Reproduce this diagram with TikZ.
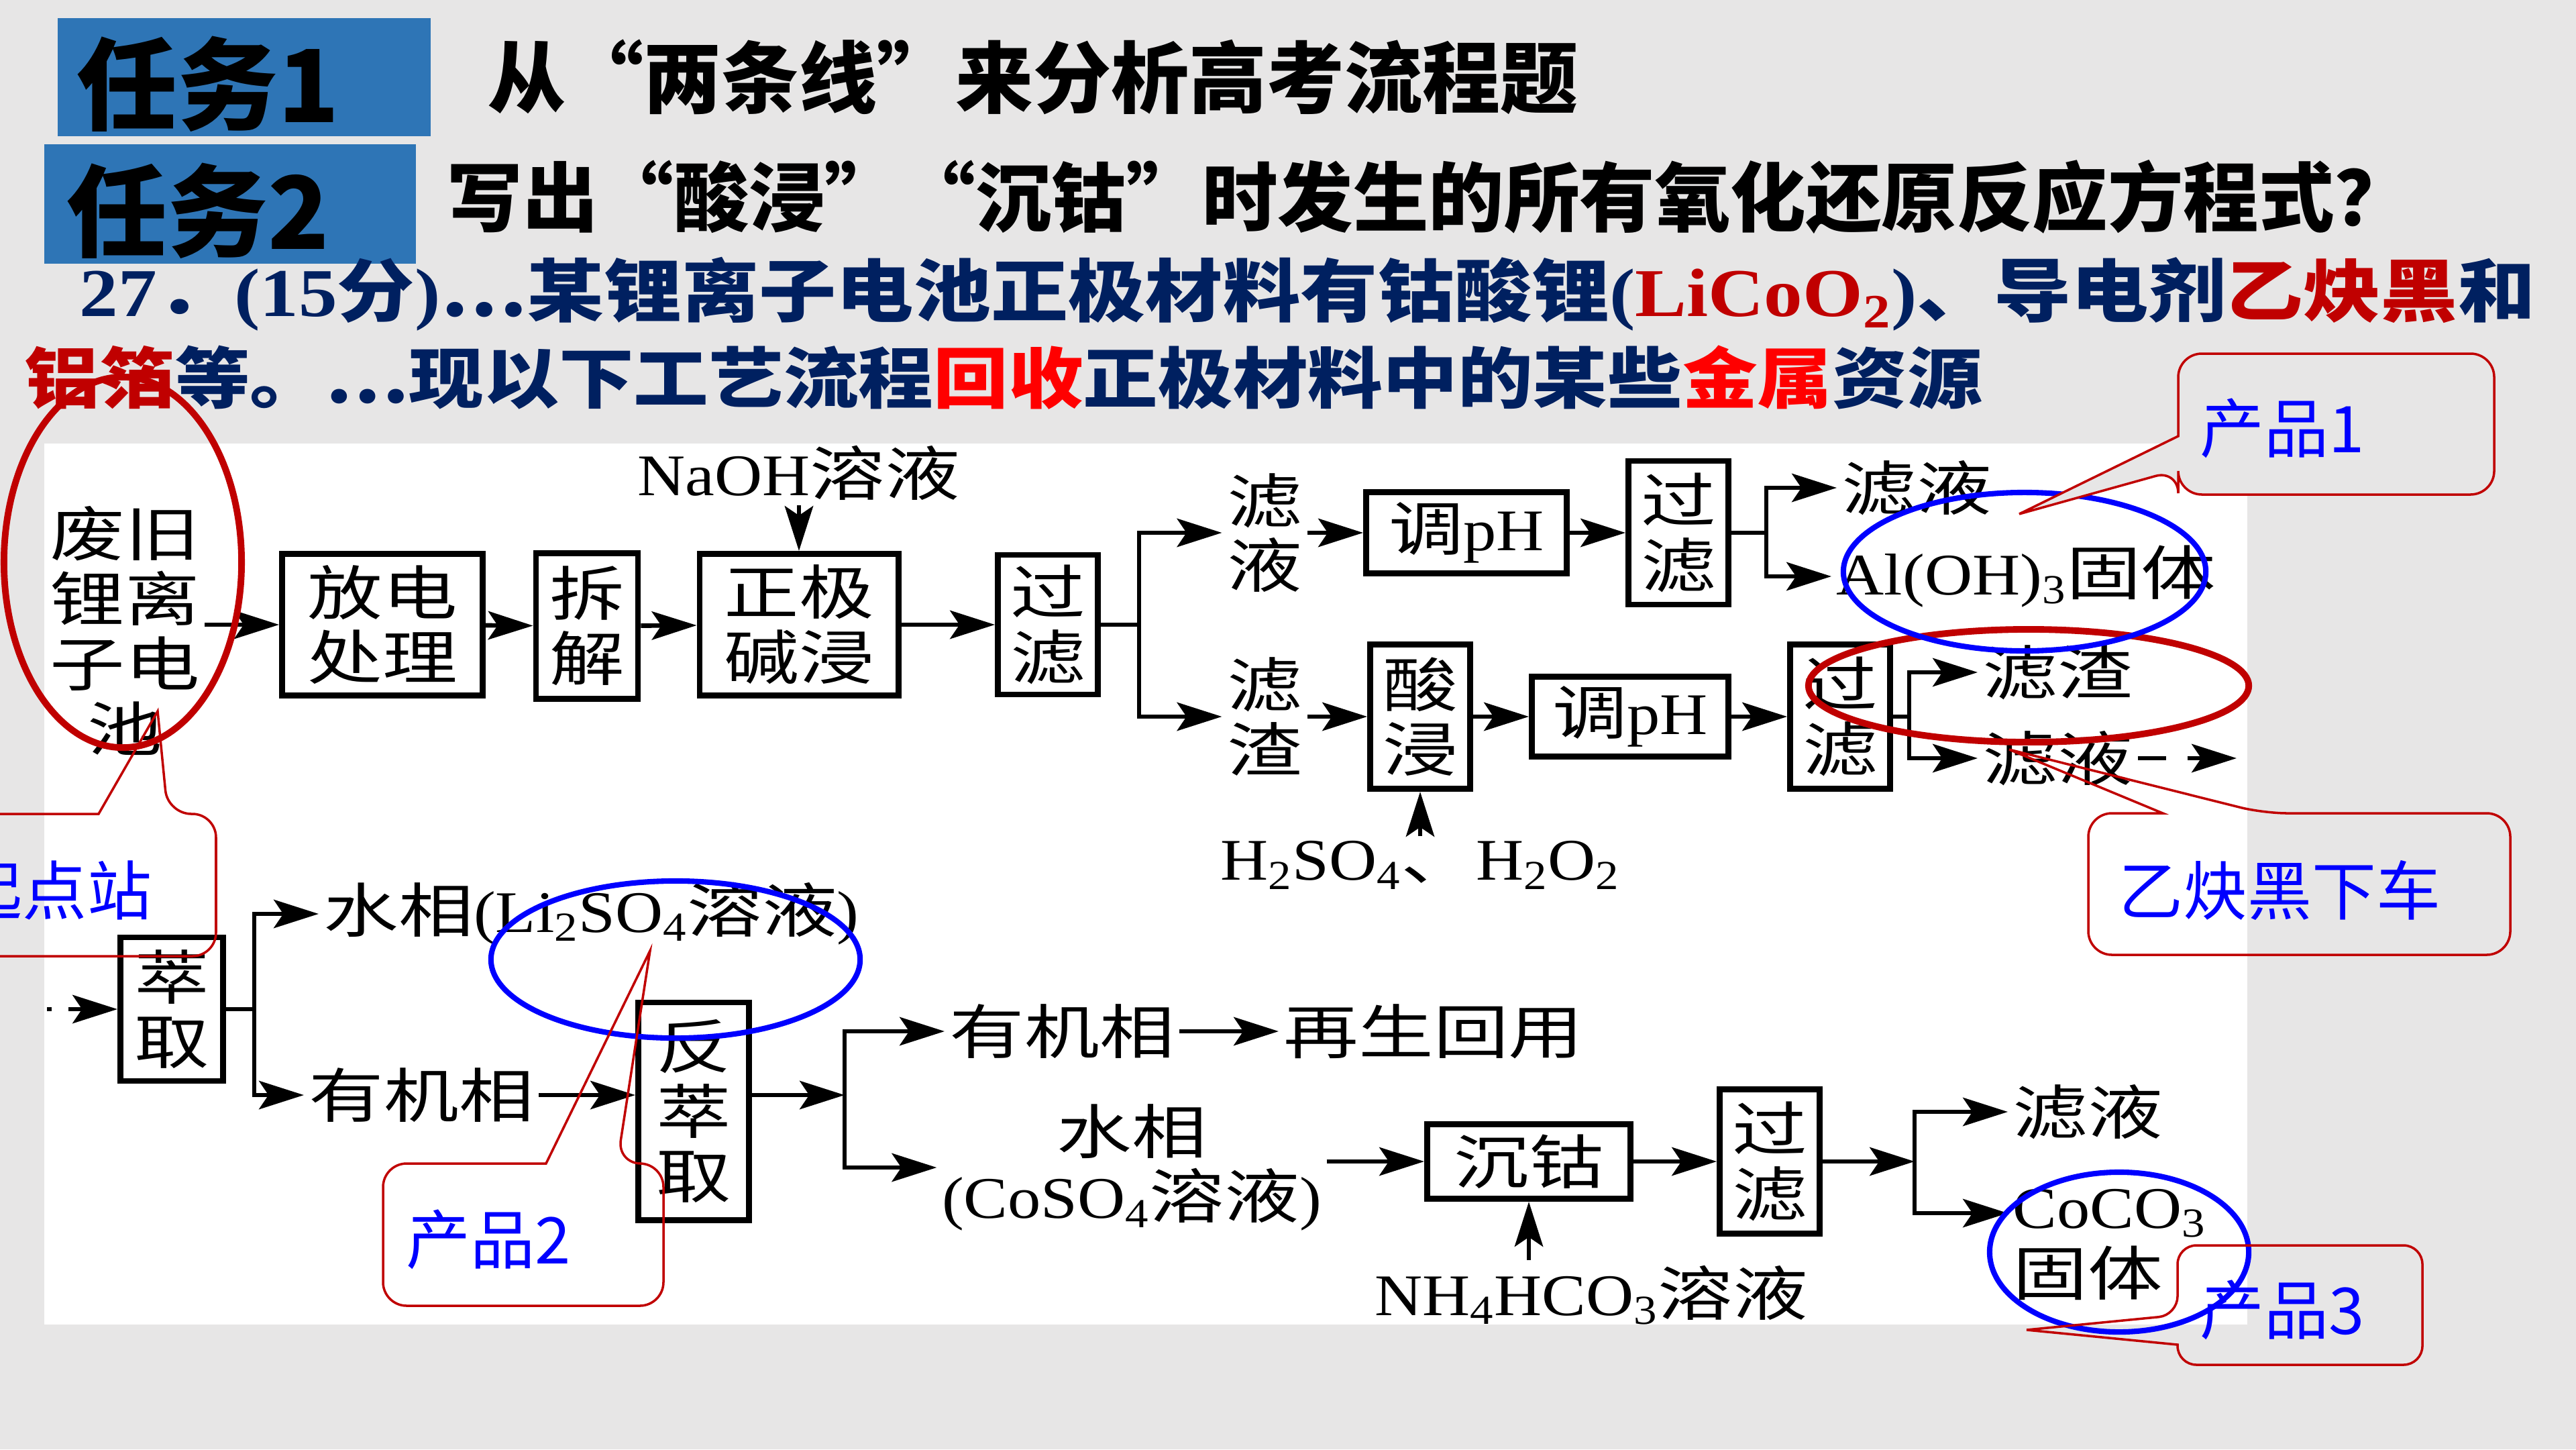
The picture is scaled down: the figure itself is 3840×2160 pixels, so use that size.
\documentclass[tikz,border=0pt]{standalone}
\usepackage{fontspec}
\usepackage{xcolor}
\usetikzlibrary{arrows.meta,positioning}

\setmainfont{Liberation Serif}
\newfontfamily\hei{Noto Sans CJK SC}
\newfontfamily\qzh[FakeStretch=1.13]{Noto Sans CJK SC}
\newfontfamily\qla[FakeStretch=1.13]{Liberation Serif}
\newfontfamily\dzh[FakeStretch=1.27]{Noto Sans CJK SC}
\newfontfamily\dla[FakeStretch=1.12]{Liberation Serif}
\newcommand\la[1]{{\dla #1}}
\newcommand\ql[1]{{\qla\bfseries #1}}

\definecolor{slide}{HTML}{E7E6E6}
\definecolor{taskblue}{HTML}{2E75B6}
\definecolor{navy}{HTML}{002060}
\definecolor{dred}{HTML}{C00000}
\definecolor{bred}{HTML}{FF0000}
\definecolor{cblue}{HTML}{0000FF}

\begin{document}
\begin{tikzpicture}[x=0.01cm, y=-0.01cm,
        procbox/.style={draw, line width=2.5pt, inner sep=0pt, align=center, font=\dzh\fontsize{25}{27.5}\selectfont},
        txt/.style={inner sep=2pt, align=center, font=\dzh\fontsize{25}{27.5}\selectfont},
        flow/.style={line width=1.9pt, -{Stealth[length=19pt, width=12pt, inset=4pt]}},
        link/.style={line width=1.9pt},
        ringred/.style={draw=dred, line width=2.8pt},
        ringblue/.style={draw=cblue, line width=2.3pt},
        bubble/.style={draw=dred, line width=1pt},
        bubtxt/.style={text=cblue, inner sep=0pt, font=\hei\fontsize{27.3}{30}\selectfont}
    ]
        \fill[slide] (0,0) rectangle (3840,2160);
        \useasboundingbox (0,0) rectangle (3840,2160);
        \clip (0,0) rectangle (3840,2160);
        \fill[white] (66,661) rectangle (3350,1974);

        % header
        \fill[taskblue] (86,27) rectangle (642,203);
        \fill[taskblue] (66,215) rectangle (620,393);
        \node[inner sep=0pt, font=\hei\bfseries\fontsize{42.7}{46}\selectfont] (task1) at (310,125) {任务1};
        \node[inner sep=0pt, font=\hei\bfseries\fontsize{42.7}{46}\selectfont] (task2) at (295,314) {任务2};
        \node[anchor=west, inner sep=0pt, font=\hei\bfseries\fontsize{33}{36}\selectfont] (ttl1) at (727,115) {从“两条线”来分析高考流程题};
        \node[anchor=west, inner sep=0pt, font=\hei\bfseries\fontsize{32}{35}\selectfont] (ttl2) at (666,294) {写出“酸浸”“沉钴”时发生的所有氧化还原反应方程式？};
        \node[anchor=west, inner sep=0pt, text=navy, font=\qzh\bfseries\fontsize{29}{32}\selectfont] (q1) at (118,438)
            {\ql{27}．\ql{(15}分\ql{)}…某锂离子电池正极材料有钴酸锂\ql{(}\textcolor{dred}{\ql{LiCoO\textsubscript{2}}}\ql{)}、导电剂\textcolor{dred}{乙炔黑}和};
        \node[anchor=west, inner sep=0pt, text=navy, font=\qzh\bfseries\fontsize{28.1}{31}\selectfont] (q2) at (37,563)
            {\textcolor{dred}{铝箔}等。…现以下工艺流程\textcolor{bred}{回收}正极材料中的某些\textcolor{bred}{金属}资源};

        % first stage
        \node[txt] (bat) at (186,940) {废旧\\锂离\\子电\\池};
        \node[procbox, minimum width=2.99cm, minimum height=2.11cm] (dis) at (570,931) {放电\\处理};
        \node[procbox, minimum width=1.52cm, minimum height=2.17cm] (dsm) at (875,933) {拆\\解};
        \node[procbox, minimum width=2.96cm, minimum height=2.11cm] (alk) at (1191,931) {正极\\碱浸};
        \node[txt, above=0.68cm of alk] (naoh) {\la{NaOH}溶液};
        \node[procbox, minimum width=1.49cm, minimum height=2.08cm] (flt1) at (1562,931) {过\\滤};
        \coordinate (j1) at (1698,931);

        \node[txt] (lv1) at (1885,794) {滤\\液};
        \node[txt] (rs1) at (1885,1068) {滤\\渣};
        \node[procbox, minimum width=2.99cm, minimum height=1.21cm] (ph1) at (2186,794) {调\la{pH}};
        \node[procbox, minimum width=1.49cm, minimum height=2.14cm] (flt2) at (2502,794) {过\\滤};
        \coordinate (j2) at (2633,794);
        \node[txt, anchor=west] (lq2) at (2738,727) {滤液};
        \node[txt, anchor=west] (aloh) at (2730,859) {\la{Al(OH)\textsubscript{3}}固体};

        \node[procbox, minimum width=1.49cm, minimum height=2.15cm] (acd) at (2117,1068) {酸\\浸};
        \node[txt, below=0.66cm of acd] (h2so4) {\la{H\textsubscript{2}SO\textsubscript{4}}、\la{H\textsubscript{2}O\textsubscript{2}}};
        \node[procbox, minimum width=2.93cm, minimum height=1.19cm] (ph2) at (2430,1068) {调\la{pH}};
        \node[procbox, minimum width=1.49cm, minimum height=2.15cm] (flt3) at (2743,1068) {过\\滤};
        \coordinate (j3) at (2846,1068);
        \node[txt, anchor=west] (rs2) at (2948,1002) {滤渣};
        \node[txt, anchor=west] (lq3) at (2948,1130) {滤液};
        \coordinate (lq3end) at (3334,1130);

        % second stage
        \coordinate (feed) at (70,1504);
        \node[procbox, minimum width=1.53cm, minimum height=2.14cm] (ext) at (256,1504) {萃\\取};
        \coordinate (j4) at (379,1504);
        \node[txt, anchor=west] (aq1) at (475,1362) {水相\la{(Li\textsubscript{2}SO\textsubscript{4}}溶液\la{)}};
        \node[txt, anchor=west] (org1) at (453,1632) {有机相};
        \node[procbox, minimum width=1.65cm, minimum height=3.24cm] (bext) at (1034,1656) {反\\萃\\取};
        \coordinate (j5) at (1259,1632);
        \node[txt, anchor=west] (org2) at (1408,1537) {有机相};
        \node[txt, anchor=west] (reuse) at (1906,1537) {再生回用};
        \node[txt] (aq2) at (1687,1740) {水相\\\la{(CoSO\textsubscript{4}}溶液\la{)}};
        \node[procbox, minimum width=3.03cm, minimum height=1.11cm] (prc) at (2279,1731) {沉钴};
        \node[txt] (nh4) at (2372,1930) {\la{NH\textsubscript{4}HCO\textsubscript{3}}溶液};
        \node[procbox, minimum width=1.49cm, minimum height=2.15cm] (flt4) at (2638,1731) {过\\滤};
        \coordinate (j6) at (2854,1731);
        \node[txt, anchor=west] (lq4) at (2993,1657) {滤液};
        \node[txt, anchor=west] (coco) at (2993,1808) {\la{CoCO\textsubscript{3}}};
        \node[txt, anchor=west] (solid) at (2993,1897) {固体};

        % connectors
        \draw[flow] (bat.east |- dis.west) -- (dis.west);
        \draw[flow] (dis) -- (dsm);
        \draw[flow] (dsm) -- (alk);
        \draw[flow] (alk) -- (flt1);
        \draw[flow] (naoh) -- (alk);
        \draw[link] (flt1.east) -- (j1);
        \draw[flow] (j1) |- (lv1.west);
        \draw[flow] (j1) |- (rs1.west);
        \draw[flow] (lv1) -- (ph1);
        \draw[flow] (ph1) -- (flt2);
        \draw[link] (flt2.east) -- (j2);
        \draw[flow] (j2) |- (lq2.west);
        \draw[flow] (j2) |- (aloh.west);
        \draw[flow] (rs1) -- (acd);
        \draw[flow] (acd) -- (ph2);
        \draw[flow] (ph2) -- (flt3);
        \draw[flow] (acd.south |- h2so4.north) -- (acd.south);
        \draw[link] (flt3.east) -- (j3);
        \draw[flow] (j3) |- (rs2.west);
        \draw[flow] (j3) |- (lq3.west);
        \draw[flow, dash pattern=on 12pt off 9pt] (lq3.east) -- (lq3end);

        \draw[flow, dash pattern=on 2pt off 7pt on 60pt off 1pt] (feed) -- (ext.west);
        \draw[link] (ext.east) -- (j4);
        \draw[flow] (j4) |- (aq1.west);
        \draw[flow] (j4) |- (org1.west);
        \draw[flow] (org1.east) -- (org1.east -| bext.west);
        \draw[flow] (bext.east |- j5) -- (j5);
        \draw[flow] (j5) |- (org2.west);
        \draw[flow] (j5) |- (aq2.west);
        \draw[flow] (org2) -- (reuse);
        \draw[flow] (aq2.east |- prc.west) -- (prc.west);
        \draw[flow] (prc) -- (flt4);
        \draw[flow] (prc.south |- nh4.north) -- (prc.south);
        \draw[flow] (flt4.east) -- (j6);
        \draw[flow] (j6) |- (lq4.west);
        \draw[flow] (j6) |- (coco.west);

        % rings
        \draw[ringred] (183,838) ellipse [x radius=1.77cm, y radius=2.76cm];
        \draw[ringred] (3024,1022) ellipse [x radius=3.28cm, y radius=0.84cm];
        \draw[ringblue] (3018,852) ellipse [x radius=2.70cm, y radius=1.18cm];
        \draw[ringblue] (1007,1430) ellipse [x radius=2.75cm, y radius=1.17cm];
        \draw[ringblue] (3159,1866) ellipse [x radius=1.93cm, y radius=1.19cm];

        % callouts
        \draw[bubble, fill=slide] (3010,766) -- (3247,650) [rounded corners=10pt] -- (3247,527) -- (3718,527) -- (3718,737) -- (3247,737) -- (3247,700) [sharp corners] -- cycle;
        \node[bubtxt] (prod1) at (3402,638) {产品1};
        \draw[bubble] (2995,1117) -- (3224,1212) [rounded corners=10pt] -- (3113,1212) -- (3113,1423) -- (3742,1423) -- (3742,1212) -- (3374,1212) [sharp corners] -- cycle;
        \node[bubtxt] (acetyl) at (3398,1327) {乙炔黑下车};
        \draw[bubble] (235,1060) -- (147,1213) [rounded corners=10pt] -- (-200,1213) -- (-200,1425) -- (322,1425) -- (322,1213) -- (250,1213) [sharp corners] -- cycle;
        \node[bubtxt] (start) at (82,1327) {起点站};
        \draw[bubble] (969,1417) -- (814,1734) [rounded corners=10pt] -- (571,1734) -- (571,1946) -- (989,1946) -- (989,1734) -- (920,1734) [sharp corners] -- cycle;
        \node[bubtxt] (prod2) at (728,1847) {产品2};
        \draw[bubble] (3021,1982) -- (3246,2004) [rounded corners=8pt] -- (3246,2034) -- (3611,2034) -- (3611,1856) -- (3246,1856) -- (3246,1960) [sharp corners] -- cycle;
        \node[bubtxt] (prod3) at (3402,1952) {产品3};
    \end{tikzpicture}
\end{document}
